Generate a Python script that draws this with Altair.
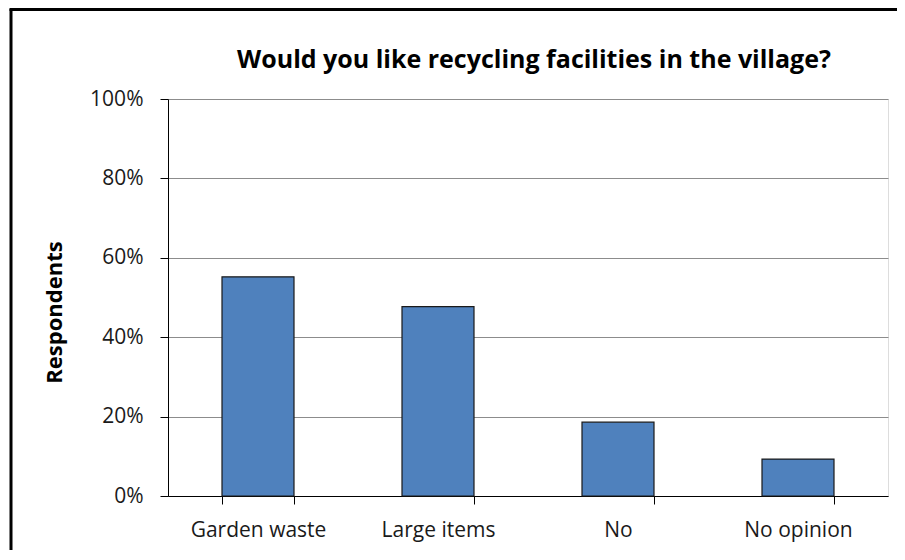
import altair as alt
import pandas as pd

categories = ["Garden waste", "Large items", "No", "No opinion"]
shares = [0.552, 0.477, 0.186, 0.093]
y_ticks = [0, 0.2, 0.4, 0.6, 0.8, 1.0]
title_text = "Would you like recycling facilities in the village?"
y_title = "Respondents"

df = pd.DataFrame({"category": categories, "share": shares})

W, H = 720, 397
FONT = "Open Sans"

bars = alt.Chart(df).mark_bar(
    color="#4F81BD", stroke="#1a1a1a", strokeWidth=1.2
).encode(
    x=alt.X("category:N", sort=categories,
            scale=alt.Scale(paddingInner=0.6, paddingOuter=0.3),
            axis=alt.Axis(title=None, labelAngle=0, tickBand="extent",
                          labelFontSize=21, labelPadding=15, labelColor="#1a1a1a",
                          domainColor="#000000", tickColor="#000000",
                          tickSize=8, grid=False, labelFont=FONT)),
    y=alt.Y("share:Q", scale=alt.Scale(domain=[0, 1]),
            axis=alt.Axis(title=y_title, values=y_ticks, format=".0%",
                          labelFontSize=21, labelPadding=17, labelColor="#1a1a1a",
                          labelFont=FONT,
                          domainColor="#000000", tickColor="#000000", tickSize=8,
                          grid=True, gridColor="#8c8c8c", gridWidth=1,
                          titleFont=FONT, titleFontSize=22, titleFontWeight="bold",
                          titleColor="#000000", titleAngle=270,
                          titleX=-114, titleY=213, titleBaseline="middle",
                          titleAlign="center")),
)

frame = alt.Chart(alt.Data(values=[{}]))
left_line = frame.mark_rule(color="#000000", strokeWidth=3).encode(
    x=alt.value(-157), y=alt.value(-90), y2=alt.value(H + 60))
top_line = frame.mark_rule(color="#000000", strokeWidth=3).encode(
    x=alt.value(-158.5), x2=alt.value(W + 40), y=alt.value(-89.5))
title_mark = frame.mark_text(
    font=FONT, fontSize=25, fontWeight="bold", color="#000000",
    align="center", baseline="alphabetic"
).encode(x=alt.value(W / 2 + 6), y=alt.value(-31), text=alt.value(title_text))

chart = alt.layer(bars, left_line, top_line, title_mark).properties(
    width=W, height=H,
    autosize=alt.AutoSizeParams(type="none"),
    padding={"left": 160, "top": 91, "right": 9, "bottom": 54},
).configure_view(stroke="#444444", strokeWidth=1).configure(background="white")

chart.save("out.html", embed_options={"renderer": "svg", "actions": False})
